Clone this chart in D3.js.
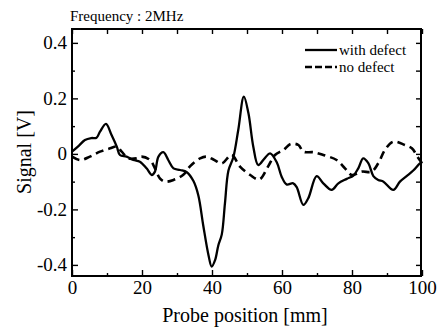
<!DOCTYPE html>
<html>
<head>
<meta charset="utf-8">
<script src="https://cdn.jsdelivr.net/npm/d3@7"></script>
<style>
  body { margin: 0; background: #fff; }
  svg { display: block; }
  svg text { font-family: "Liberation Serif", "Times New Roman", Times, "DejaVu Serif", serif; fill: #000; }
</style>
</head>
<body>
<svg id="graph" width="446" height="329"></svg>
<script>
// with defect (solid)
var withX = [0, 2, 3.7, 5.5, 7, 8, 9.7, 11.3, 12.8, 13.7, 15.6, 17.5, 19.4, 21.3, 22.8, 23.7, 24.7, 26.1, 27.5, 29,
    30.9, 32.8, 34.7, 36.1, 37.5, 39, 39.9, 40.9, 41.8, 42.8, 43.7, 44.7, 46.1, 47.5, 49.1, 50.4, 51.8, 53.2, 55.1, 56.6,
    58.5, 59.9, 61.3, 63.2, 64.2, 66.1, 67.5, 69.9, 71.8, 74.2, 76.1, 78.5, 80.4, 81.8, 83.2, 84.7, 86.1, 87.5, 89,
    91.8, 93.7, 95.6, 97.5, 99.4, 100]
var withY = [0.008, 0.03, 0.05, 0.057, 0.058, 0.08, 0.108, 0.068, 0.026, -0.004, -0.01, -0.022, -0.028, -0.052, -0.076, -0.064, -0.01, 0.006, -0.022, -0.052,
    -0.058, -0.066, -0.098, -0.15, -0.258, -0.365, -0.406, -0.382, -0.33, -0.29, -0.178, -0.06, -0.012, 0.086, 0.206, 0.147, 0.026, -0.04, -0.015, 0.002,
    -0.03, -0.082, -0.11, -0.106, -0.12, -0.184, -0.16, -0.08, -0.106, -0.13, -0.106, -0.09, -0.078, -0.052, -0.016, -0.034, -0.08, -0.094, -0.1,
    -0.13, -0.1, -0.08, -0.06, -0.034, -0.03]

// no defect (dashed)
var noX = [0, 2.3, 5.1, 8, 10.9, 12.8, 14.2, 16.1, 18.5, 19.9, 22.3, 23.7, 25.1, 26.6, 29, 31.8, 33.7, 36.6, 38.5, 40.4,
    42.8, 45.6, 48, 50.9, 53.5, 56, 58, 60.4, 62.5, 64.7, 66.1, 69, 71.8, 75.6, 78, 79.9, 82.8, 85.6, 87.5, 89.4,
    91.8, 95.1, 97.1, 99, 100]
var noY = [-0.01, -0.022, -0.01, 0.008, 0.02, 0.026, 0.008, -0.016, -0.016, -0.01, -0.022, -0.052, -0.088, -0.1, -0.094, -0.075, -0.045, -0.016, -0.01, -0.02,
    -0.034, -0.004, -0.046, -0.076, -0.092, -0.046, -0.004, 0.014, 0.036, 0.032, 0.008, 0.006, -0.004, -0.022, -0.052, -0.076, -0.064, -0.064, -0.034, 0.014,
    0.044, 0.032, 0.02, -0.016, -0.034]

var xMajor = [0, 20, 40, 60, 80, 100]
var xMinor = [10, 30, 50, 70, 90]
var yMajor = [-0.4, -0.2, 0, 0.2, 0.4]
var yMinor = [-0.3, -0.1, 0.1, 0.3]
var yLabels = ["-0.4", "-0.2", "0", "0.2", "0.4"]

var legendNames = ["with defect", "no defect"]

var svg = d3.select("#graph")
var serif = "'Liberation Serif', 'Times New Roman', Times, 'DejaVu Serif', serif"

var x = d3.scaleLinear().domain([0, 100]).range([72, 422])
var y = d3.scaleLinear().domain([-0.44, 0.45]).range([276, 29])

// axes, ticks inward
svg.append("g").attr("transform", "translate(0," + 276 + ")")
    .call(d3.axisBottom(x).tickValues(xMajor).tickSize(-6).tickPadding(5).tickFormat(d3.format("d")))
svg.append("g").attr("transform", "translate(0," + 276 + ")")
    .call(d3.axisBottom(x).tickValues(xMinor).tickSize(-3).tickFormat(""))
svg.append("g").attr("transform", "translate(0," + 29 + ")")
    .call(d3.axisTop(x).tickValues(xMajor.concat(xMinor)).tickSize(-5).tickFormat(""))

svg.append("g").attr("transform", "translate(" + 72 + ",0)")
    .call(d3.axisLeft(y).tickValues(yMajor).tickSize(-6).tickPadding(5).tickFormat((d, i) => yLabels[i]))
svg.append("g").attr("transform", "translate(" + 72 + ",0)")
    .call(d3.axisLeft(y).tickValues(yMinor).tickSize(-3).tickFormat(""))
svg.append("g").attr("transform", "translate(" + 421 + ",0)")
    .call(d3.axisRight(y).tickValues(yMajor.concat(yMinor)).tickSize(-5).tickFormat(""))

svg.selectAll("g").attr("font-family", serif)
svg.selectAll(".domain").remove()
svg.selectAll(".tick line").attr("stroke", "#000").attr("stroke-width", 1.4)
svg.selectAll(".tick text")
    .attr("font-family", serif)
    .attr("font-size", "19px")
    .attr("fill", "#000")

// frame
svg.append("rect")
    .attr("x", 72).attr("y", 29)
    .attr("width", 349).attr("height", 247)
    .attr("fill", "none")
    .attr("stroke", "#000")
    .attr("stroke-width", 2)

var line = d3.line()
    .x((d) => x(d[0]))
    .y((d) => y(d[1]))
    .curve(d3.curveCatmullRom.alpha(0.5))

svg.append("path")
    .datum(noX.map((d, i) => [d, noY[i]]))
    .attr("d", line)
    .attr("fill", "none")
    .attr("stroke", "#000")
    .attr("stroke-width", 2.6)
    .attr("stroke-dasharray", "8,5")

svg.append("path")
    .datum(withX.map((d, i) => [d, withY[i]]))
    .attr("d", line)
    .attr("fill", "none")
    .attr("stroke", "#000")
    .attr("stroke-width", 2.3)
    .attr("stroke-linejoin", "round")

// legend
var leg = svg.append("g")
leg.selectAll("line").data(legendNames).enter().append("line")
    .attr("x1", 305).attr("x2", 337)
    .attr("y1", (d, i) => 50 + i * 17)
    .attr("y2", (d, i) => 50 + i * 17)
    .attr("stroke", "#000")
    .attr("stroke-width", 2.3)
    .attr("stroke-dasharray", (d, i) => i == 1 ? "7,3" : null)
leg.selectAll("text").data(legendNames).enter().append("text")
    .attr("x", 339)
    .attr("y", (d, i) => 55 + i * 17)
    .attr("font-family", serif)
    .attr("font-size", "15px")
    .text((d) => d)

// title and labels
svg.append("text")
    .attr("x", 70).attr("y", 21)
    .attr("font-family", serif)
    .attr("font-size", "15px")
    .text("Frequency : 2MHz")

svg.append("text")
    .attr("x", 245).attr("y", 322)
    .attr("text-anchor", "middle")
    .attr("font-family", serif)
    .attr("font-size", "20px")
    .text("Probe position [mm]")

svg.append("text")
    .attr("transform", "translate(31,152) rotate(-90)")
    .attr("text-anchor", "middle")
    .attr("font-family", serif)
    .attr("font-size", "20px")
    .text("Signal [V]")
</script>
</body>
</html>
